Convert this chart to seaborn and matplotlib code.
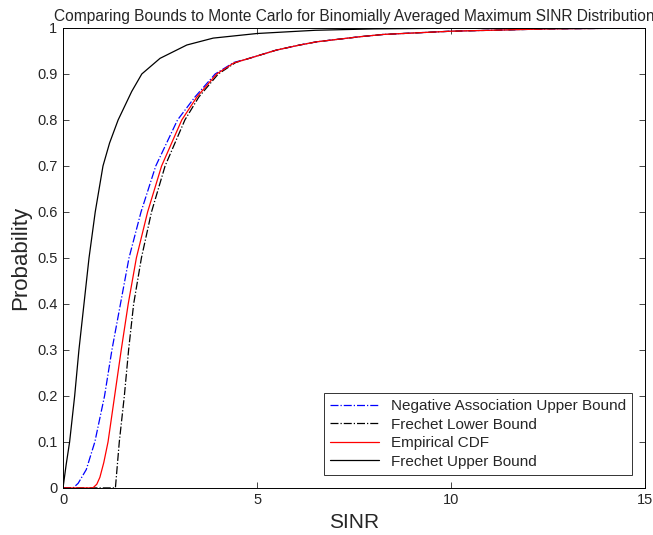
import matplotlib
matplotlib.use("Agg")
import matplotlib.pyplot as plt
import seaborn as sns
from matplotlib.ticker import FormatStrFormatter

# values
x_neg = [0, 0.26, 0.39, 0.6, 0.82, 1.07, 1.26, 1.48, 1.7, 2.01, 2.39, 2.95, 3.4, 3.92, 4.4, 4.8, 5.5, 6.1, 6.54, 7.65, 8.26, 10, 12.5, 15]
y_neg = [0, 0, 0.01, 0.04, 0.1, 0.2, 0.3, 0.4, 0.5, 0.6, 0.7, 0.8, 0.85, 0.9, 0.925, 0.934, 0.952, 0.963, 0.97, 0.981, 0.986, 0.993, 0.998, 1.0]

x_low = [0, 1.35, 1.45, 1.58, 1.69, 1.82, 2.02, 2.28, 2.63, 3.14, 3.5, 4.0, 4.45, 4.8, 5.5, 6.1, 6.54, 7.65, 8.26, 10, 12.5, 15]
y_low = [0, 0, 0.1, 0.2, 0.3, 0.4, 0.5, 0.6, 0.7, 0.8, 0.85, 0.9, 0.925, 0.934, 0.952, 0.963, 0.97, 0.981, 0.986, 0.993, 0.998, 1.0]

x_emp = [0, 0.77, 0.87, 0.95, 1.05, 1.16, 1.33, 1.5, 1.68, 1.89, 2.18, 2.54, 3.06, 3.45, 3.96, 4.4, 4.8, 5.5, 6.1, 6.54, 7.65, 8.26, 10, 12.5, 15]
y_emp = [0, 0, 0.008, 0.023, 0.055, 0.1, 0.2, 0.3, 0.4, 0.5, 0.6, 0.7, 0.8, 0.85, 0.9, 0.924, 0.934, 0.952, 0.963, 0.97, 0.981, 0.986, 0.993, 0.998, 1.0]

x_up = [0, 0.08, 0.17, 0.3, 0.41, 0.54, 0.67, 0.83, 1.03, 1.2, 1.42, 1.77, 2.03, 2.5, 3.19, 3.87, 5.0, 6.5, 8, 10, 15]
y_up = [0, 0.05, 0.1, 0.2, 0.3, 0.4, 0.5, 0.6, 0.7, 0.75, 0.8, 0.862, 0.9, 0.934, 0.963, 0.978, 0.988, 0.995, 0.998, 0.9995, 1.0]

sns.set_style("white")
plt.rcParams["font.family"] = ["Liberation Sans", "DejaVu Sans"]

fig = plt.figure(figsize=(6.53, 5.35), dpi=100)
ax = fig.add_axes([0.0965, 0.088, 0.8915, 0.8597])

sns.lineplot(x=x_neg, y=y_neg, ax=ax, color="#0000ff", linestyle="-.", linewidth=0.9,
             label="Negative Association Upper Bound", sort=False)
sns.lineplot(x=x_low, y=y_low, ax=ax, color="black", linestyle="-.", linewidth=0.9,
             label="Frechet Lower Bound", sort=False)
sns.lineplot(x=x_emp, y=y_emp, ax=ax, color="#ff0000", linestyle="-", linewidth=0.9,
             label="Empirical CDF", sort=False)
sns.lineplot(x=x_up, y=y_up, ax=ax, color="black", linestyle="-", linewidth=0.9,
             label="Frechet Upper Bound", sort=False)

ax.set_xlim(0, 15)
ax.set_ylim(0, 1)
ax.set_xticks([0, 5, 10, 15])
ax.set_yticks([i / 10 for i in range(11)])
ax.yaxis.set_major_formatter(FormatStrFormatter("%g"))
ax.tick_params(direction="in", length=4, width=0.6, labelsize=10.5, top=True, right=True,
               bottom=True, left=True, pad=4)
for s in ax.spines.values():
    s.set_color("black")
    s.set_linewidth(0.7)

ax.set_xlabel("SINR", fontsize=15, labelpad=4)
ax.set_ylabel("Probability", fontsize=16, labelpad=4)
ax.set_title("Comparing Bounds to Monte Carlo for Binomially Averaged Maximum SINR Distribution",
             fontsize=11.2, pad=5)

leg = ax.legend(loc="lower right", fontsize=11, frameon=True, fancybox=False,
                edgecolor="black", borderaxespad=0.85, handlelength=3.2, labelspacing=0.3)
leg.get_frame().set_linewidth(0.7)

fig.savefig("out.png", dpi=100)
